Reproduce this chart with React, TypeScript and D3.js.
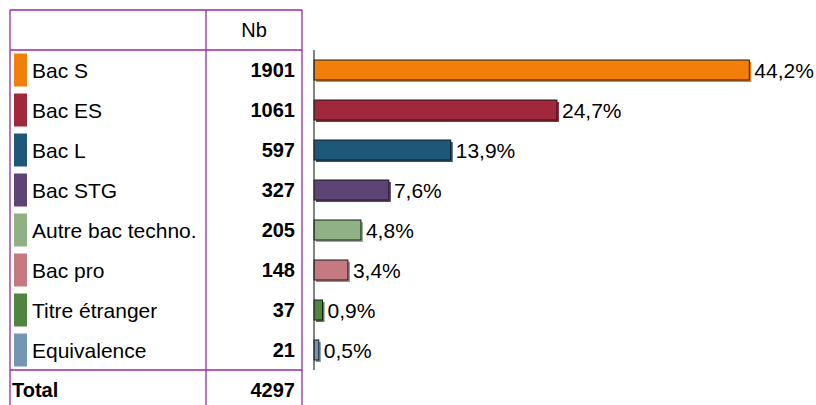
import React, { useEffect, useRef } from 'react';
import * as d3 from 'd3';

// Répartition par série de bac
const categories = ['Bac S', 'Bac ES', 'Bac L', 'Bac STG', 'Autre bac techno.', 'Bac pro', 'Titre étranger', 'Equivalence'];
const counts = [1901, 1061, 597, 327, 205, 148, 37, 21];
const colors = ['#F0800A', '#A0283A', '#1E5878', '#5E4474', '#90B185', '#C47A80', '#4E8540', '#7396B3'];
const headerLabel = 'Nb';
const totalLabel = 'Total';

const W = 816;
const H = 405;
const FONT = 'Arial, "Liberation Sans", sans-serif';

export default function App() {
    const svgRef = useRef<SVGSVGElement>(null);

    useEffect(() => {
        if (!svgRef.current) return;
        const svg = d3.select(svgRef.current);
        svg.html('');

        const total = d3.sum(counts);
        const pct = counts.map(c => c / total);
        const fr = d3.formatLocale({ decimal: ',', thousands: ' ', grouping: [3], currency: ['', ' €'] });
        const fmtPct = fr.format('.1%');

        const table = { left: 10, top: 10, headerBottom: 50, col1: 206, right: 302 };
        const rowsBottom = table.headerBottom + categories.length * 40;
        const border = '#9A28A6';

        const y = d3.scaleBand<string>()
            .domain(categories)
            .range([table.headerBottom, rowsBottom]);
        const x = d3.scaleLinear().domain([0, 0.5]).range([314, 806]);

        const g = svg.append('g').style('font-family', FONT);

        // table lines
        const vLines = [table.left, table.col1, table.right];
        g.selectAll('line.v').data(vLines).enter().append('line')
            .attr('x1', d => d).attr('x2', d => d)
            .attr('y1', table.top).attr('y2', H + 10)
            .attr('stroke', border).attr('stroke-width', 1.3);
        const hLines = [table.top, table.headerBottom, rowsBottom];
        g.selectAll('line.h').data(hLines).enter().append('line')
            .attr('x1', table.left).attr('x2', table.right)
            .attr('y1', d => d).attr('y2', d => d)
            .attr('stroke', border).attr('stroke-width', 1.3);

        g.append('text')
            .attr('x', (table.col1 + table.right) / 2)
            .attr('y', (table.top + table.headerBottom) / 2)
            .attr('text-anchor', 'middle')
            .attr('dominant-baseline', 'central')
            .style('font-size', '20px')
            .text(headerLabel);

        const rows = g.selectAll('g.row')
            .data(categories)
            .enter().append('g')
            .attr('transform', d => `translate(0, ${y(d)! + y.bandwidth() / 2})`);

        rows.append('rect')
            .attr('x', 14).attr('y', -16.5)
            .attr('width', 13).attr('height', 33)
            .attr('fill', (_, i) => colors[i]);

        rows.append('text')
            .attr('x', 32).attr('y', 0)
            .attr('dominant-baseline', 'central')
            .style('font-size', '21px')
            .text(d => d);

        rows.append('text')
            .attr('x', 295).attr('y', 0)
            .attr('text-anchor', 'end')
            .attr('dominant-baseline', 'central')
            .style('font-size', '20px')
            .style('font-weight', 'bold')
            .text((_, i) => counts[i]);

        // total row
        const totalY = rowsBottom + 20;
        g.append('text')
            .attr('x', 12).attr('y', totalY)
            .attr('dominant-baseline', 'central')
            .style('font-size', '20px').style('font-weight', 'bold')
            .text(totalLabel);
        g.append('text')
            .attr('x', 295).attr('y', totalY)
            .attr('text-anchor', 'end')
            .attr('dominant-baseline', 'central')
            .style('font-size', '20px').style('font-weight', 'bold')
            .text(total);

        // bars
        const barH = 20;
        const shadow = 2;
        rows.append('rect')
            .attr('x', x(0) + shadow).attr('y', -barH / 2 + shadow)
            .attr('width', (_, i) => Math.max(0, x(pct[i]) - x(0)))
            .attr('height', barH)
            .attr('fill', (_, i) => colors[i]);
        rows.append('rect')
            .attr('x', x(0)).attr('y', -barH / 2)
            .attr('width', (_, i) => x(pct[i]) - x(0))
            .attr('height', barH)
            .attr('fill', (_, i) => colors[i])
            .attr('stroke', '#1a1a1a').attr('stroke-width', 1);

        rows.append('text')
            .attr('x', (_, i) => x(pct[i]) + 5)
            .attr('y', 0)
            .attr('dominant-baseline', 'central')
            .style('font-size', '21px')
            .text((_, i) => fmtPct(pct[i]));

        // axis
        g.append('line')
            .attr('x1', x(0)).attr('x2', x(0))
            .attr('y1', table.headerBottom).attr('y2', rowsBottom)
            .attr('stroke', '#333').attr('stroke-width', 1.2);
    }, []);

    return (
        <div style={{ position: 'fixed', left: 0, top: 0, width: W, height: H, background: '#fff' }}>
            <svg ref={svgRef} width={W} height={H} style={{ display: 'block' }} />
        </div>
    );
}
